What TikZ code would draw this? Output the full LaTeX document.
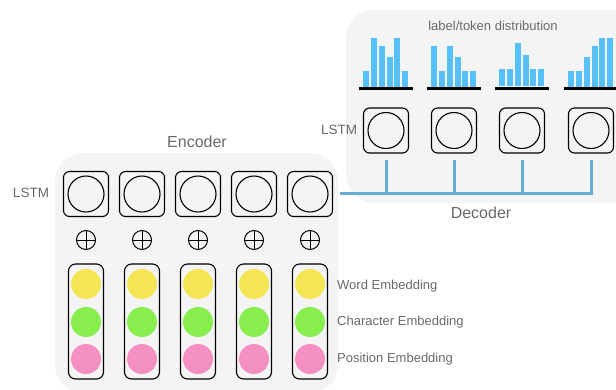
\documentclass[tikz,border=0pt]{standalone}
\usepackage{fontspec}
\setmainfont{Liberation Sans}

\definecolor{panelgray}{RGB}{244,244,244}
\definecolor{textgray}{RGB}{105,105,105}
\definecolor{busblue}{RGB}{104,172,214}
\definecolor{barblue}{RGB}{86,192,250}
\definecolor{wordyellow}{RGB}{245,229,82}
\definecolor{chargreen}{RGB}{136,238,78}
\definecolor{pospink}{RGB}{244,143,193}

\begin{document}
\begin{tikzpicture}[x=1pt,y=-1pt,
	panel/.style	= {fill=panelgray, rounded corners=28pt},
	lstm/.style	= {draw, line width=1.1pt, rounded corners=6pt, minimum size=45pt, inner sep=0pt,
		path picture={\draw[line width=1.1pt] (path picture bounding box.center) circle (18pt);}},
	oplus/.style	= {circle, draw, line width=1pt, minimum size=19pt, inner sep=0pt,
		path picture={\draw[line width=1pt] (path picture bounding box.north) -- (path picture bounding box.south)
			(path picture bounding box.west) -- (path picture bounding box.east);}},
	embbar/.style	= {draw, line width=1.1pt, rounded corners=7pt, minimum width=35pt, minimum height=115pt, inner sep=0pt},
	dot/.style	= {circle, minimum size=30pt, inner sep=0pt},
	bus/.style	= {draw=busblue, line width=3pt},
	histbar/.style	= {fill=barblue},
	label/.style	= {text=textgray, inner sep=0pt, font=\fontsize{13}{15}\selectfont},
	tag/.style	= {text=textgray, inner sep=0pt, font=\fontsize{13.5}{16}\selectfont},
	title/.style	= {text=textgray, inner sep=0pt, font=\fontsize{16}{19}\selectfont}]
	\useasboundingbox (0,0) rectangle (616,389);
	\clip (0,0) rectangle (616,389);

	% panels
	\fill[panel] (346,10) rectangle (680,203);
	\fill[panel] (55,153) rectangle (338,393);

	% encoder
	\foreach \x [count=\i] in {86,142,198,254,310} {
		\node (el\i) at (\x,194)	[lstm]	{};
		\node (op\i) at (\x,240)	[oplus]	{};
		\node (emb\i) at (\x,321.5)	[embbar]	{};
		\node (w\i) at (\x,284)	[dot, fill=wordyellow]	{};
		\node (c\i) at (\x,322)	[dot, fill=chargreen]	{};
		\node (p\i) at (\x,359)	[dot, fill=pospink]	{};
	}

	% decoder
	\node (dl1) at (386,130.5)	[lstm]	{};
	\node (dl2) at (454,130.5)	[lstm]	{};
	\node (dl3) at (522,130.5)	[lstm]	{};
	\node (dl4) at (591,130.5)	[lstm]	{};
	\coordinate (busL) at (340,193);
	\draw[bus] (busL) -- (dl4 |- busL) -- ([yshift=-6pt]dl4.south);
	\foreach \i in {1,2,3}
		\draw[bus] ([yshift=-6pt]dl\i.south) -- (dl\i |- busL);

	% histograms
	\foreach \h [count=\j] in {16,49,41,30,49,16}
		\fill[histbar] ({386-23+7.85*(\j-1)},87) rectangle ++(6,-\h);
	\foreach \h [count=\j] in {41,16,41,30,16,16}
		\fill[histbar] ({454-23+7.85*(\j-1)},87) rectangle ++(6,-\h);
	\foreach \h [count=\j] in {17,17,43,31,17,17}
		\fill[histbar] ({522-23+7.85*(\j-1)},86) rectangle ++(6,-\h);
	\foreach \h [count=\j] in {16,16,30,41,49,49}
		\fill[histbar] ({591-23+7.85*(\j-1)},87) rectangle ++(6,-\h);
	\foreach \x in {386,454,522,591}
		\draw[line width=2.2pt] (\x-27,88.5) -- (\x+27,88.5);

	% labels
	\node (encT) at (197,142)	[title]	{Encoder};
	\node (decT) at (481,213)	[title]	{Decoder};
	\node (encL) at (31,193)	[tag]	{LSTM};
	\node (decL) at (339,130)	[tag]	{LSTM};
	\node (distT) at (493,26)	[label]	{label/token distribution};
	\node (wordT) at (337,286)	[label, anchor=west]	{Word Embedding};
	\node (charT) at (337,322)	[label, anchor=west]	{Character Embedding};
	\node (posT) at (337,359)	[label, anchor=west]	{Position Embedding};
\end{tikzpicture}
\end{document}
